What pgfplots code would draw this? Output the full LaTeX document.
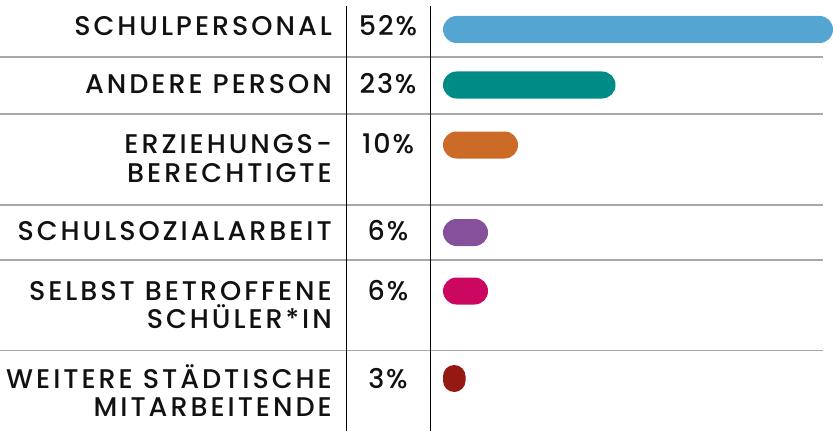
\documentclass[border=0pt]{standalone}
\usepackage{pgfplots}
\pgfplotsset{compat=1.18}
\usepackage{fontspec}
\setmainfont{Poppins}[LetterSpace=7, UprightFont=* Medium]
\newfontfamily\labfont{Poppins}[LetterSpace=11, UprightFont=* Medium]
\definecolor{cA}{HTML}{55A5D3}
\definecolor{cB}{HTML}{008B87}
\definecolor{cC}{HTML}{CC6A28}
\definecolor{cD}{HTML}{87509A}
\definecolor{cE}{HTML}{CB0762}
\definecolor{cF}{HTML}{951813}
\definecolor{txt}{HTML}{111111}
\definecolor{rule}{HTML}{A8A8A8}
\begin{document}
\begin{tikzpicture}[x=1pt,y=1pt]
\path[use as bounding box] (0,0) rectangle (833,431);
% row separators
\foreach \py in {57,114,205,260,350.5}{
  \draw[rule, line width=1.3pt] (0,431-\py) -- (823,431-\py);
}
\draw[black, line width=1pt] (346.5,425) -- (346.5,0);
\draw[black, line width=1pt] (430,425) -- (430,0);
\begin{axis}[at={(0,0)}, anchor=south west, width=833pt, height=431pt, scale only axis,
  xmin=-59.0667, xmax=52, ymin=0, ymax=431, y dir=reverse, hide axis, clip=false]
\addplot[xbar, bar shift=0pt, bar width=27pt, fill=cA, draw=none, rounded corners=13.5pt] coordinates {(52,29.5)};
\addplot[xbar, bar shift=0pt, bar width=27pt, fill=cB, draw=none, rounded corners=13.5pt] coordinates {(23,85)};
\addplot[xbar, bar shift=0pt, bar width=27pt, fill=cC, draw=none, rounded corners=13.5pt] coordinates {(10,145)};
\addplot[xbar, bar shift=0pt, bar width=27pt, fill=cD, draw=none, rounded corners=13.5pt] coordinates {(6,232.5)};
\addplot[xbar, bar shift=0pt, bar width=27pt, fill=cE, draw=none, rounded corners=13.5pt] coordinates {(6,291)};
\addplot[xbar, bar shift=0pt, bar width=27pt, fill=cF, draw=none, rounded corners=11.25pt] coordinates {(3,378.5)};
\end{axis}
\tikzset{lab/.style={anchor=base east, inner sep=0pt, text=txt, font=\labfont\fontsize{27}{28}\selectfont},
         pct/.style={anchor=base, inner sep=0pt, text=txt, font=\fontsize{27}{28}\selectfont}}
\node[lab] at (332,431-36) {SCHULPERSONAL};
\node[lab] at (332,431-94) {ANDERE PERSON};
\node[lab] at (332,431-154) {ERZIEHUNGS-};
\node[lab] at (332,431-182.5) {BERECHTIGTE};
\node[lab] at (332,431-240.5) {SCHULSOZIALARBEIT};
\node[lab] at (332,431-300.5) {SELBST BETROFFENE};
\node[lab] at (332,431-329) {SCHÜLER*IN};
\node[lab] at (332,431-389) {WEITERE STÄDTISCHE};
\node[lab] at (332,431-417) {MITARBEITENDE};
\node[pct] at (388,431-36) {52\%};
\node[pct] at (388,431-94) {23\%};
\node[pct] at (388,431-154) {10\%};
\node[pct] at (388,431-240.5) {6\%};
\node[pct] at (388,431-300.5) {6\%};
\node[pct] at (388,431-389) {3\%};
\end{tikzpicture}
\end{document}
